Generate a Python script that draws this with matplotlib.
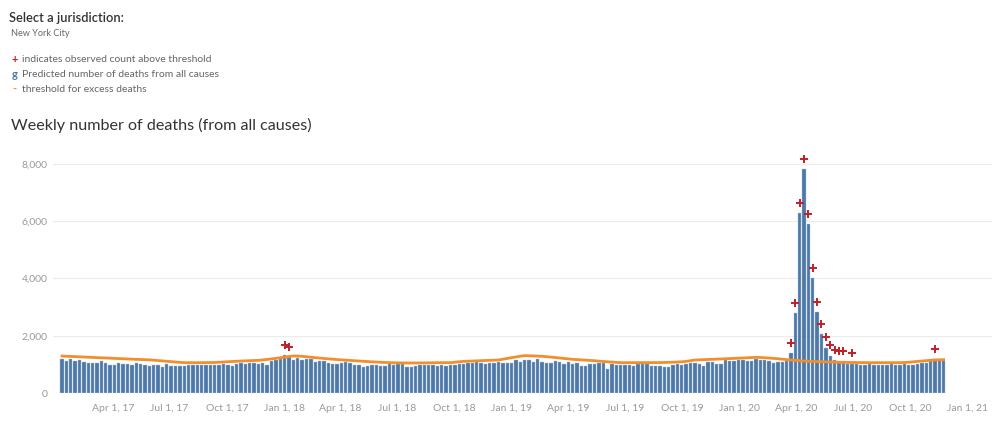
import matplotlib
matplotlib.use("Agg")
import matplotlib.pyplot as plt
import matplotlib.dates as mdates
import pandas as pd

plt.rcParams['font.family'] = ['Lato', 'DejaVu Sans']

# weekly deaths, weeks ending 2017-01-07 .. 2020-11-21
first_week = "2017-01-07"
observed = [
    1175, 1129, 1190, 1129, 1150, 1094, 1036, 1036, 1036, 1105,
    1036, 966, 966, 1036, 1024, 1012, 978, 1045, 1000, 978,
    943, 978, 966, 919, 1000, 930, 930, 943, 943, 966,
    978, 989, 966, 966, 966, 989, 978, 1012, 989, 955,
    1012, 1036, 1012, 1036, 1047, 1012, 1059, 989, 1129, 1163,
    1187, 1311, 1257, 1152, 1233, 1140, 1199, 1175, 1070, 1105,
    1129, 1036, 1012, 1001, 1059, 1070, 1047, 966, 989, 919,
    943, 989, 966, 955, 955, 1012, 966, 1024, 1001, 908,
    896, 943, 978, 978, 966, 966, 955, 966, 943, 989,
    966, 1012, 1024, 1036, 1036, 1082, 1036, 1012, 1059, 1059,
    1094, 1059, 1059, 1059, 1140, 1094, 1140, 1140, 1094, 1187,
    1094, 1036, 1059, 1105, 1070, 1024, 1070, 1024, 1047, 943,
    943, 1012, 1024, 1036, 1036, 850, 1012, 966, 989, 978,
    978, 943, 1012, 1001, 1012, 943, 943, 943, 919, 919,
    978, 1012, 966, 1010, 1059, 1047, 1012, 943, 1094, 1070,
    1024, 1001, 1152, 1129, 1129, 1152, 1152, 1129, 1129, 1175,
    1163, 1152, 1117, 1059, 1094, 1094, 1105, 1384, 2780, 6270,
    7807, 5887, 4002, 2815, 2048, 1582, 1303, 1152, 1117, 1117,
    1010, 1024, 1024, 989, 966, 1024, 966, 966, 989, 966,
    1001, 966, 966, 1001, 989, 966, 1024, 1059, 1047, 1105,
    1175, 1175, 1152,
]
threshold = [
    1290, 1284, 1277, 1270, 1262, 1255, 1249, 1242, 1235, 1228,
    1222, 1215, 1208, 1201, 1194, 1187, 1181, 1175, 1169, 1164,
    1158, 1145, 1130, 1117, 1105, 1093, 1081, 1070, 1059, 1058,
    1057, 1058, 1059, 1061, 1063, 1065, 1073, 1082, 1092, 1101,
    1110, 1116, 1122, 1128, 1134, 1140, 1155, 1172, 1190, 1210,
    1232, 1255, 1275, 1291, 1290, 1280, 1266, 1250, 1235, 1220,
    1205, 1192, 1180, 1168, 1157, 1146, 1136, 1127, 1118, 1108,
    1098, 1089, 1080, 1072, 1066, 1061, 1056, 1052, 1050, 1048,
    1047, 1049, 1051, 1054, 1057, 1059, 1059, 1059, 1059, 1059,
    1075, 1090, 1105, 1111, 1117, 1123, 1129, 1135, 1141, 1147,
    1152, 1180, 1207, 1233, 1260, 1285, 1303, 1300, 1295, 1288,
    1280, 1268, 1254, 1238, 1222, 1206, 1190, 1175, 1166, 1157,
    1148, 1140, 1127, 1113, 1100, 1090, 1080, 1070, 1059, 1059,
    1058, 1058, 1058, 1058, 1058, 1059, 1059, 1062, 1066, 1070,
    1075, 1082, 1090, 1105, 1128, 1152, 1158, 1164, 1170, 1175,
    1181, 1187, 1193, 1199, 1208, 1216, 1225, 1233, 1240, 1245,
    1240, 1230, 1220, 1210, 1195, 1180, 1166, 1152, 1140, 1128,
    1116, 1105, 1100, 1095, 1090, 1086, 1082, 1078, 1070, 1068,
    1066, 1064, 1062, 1061, 1060, 1059, 1059, 1059, 1059, 1059,
    1059, 1059, 1059, 1065, 1075, 1090, 1105, 1117, 1129, 1140,
    1152, 1158, 1164,
]
# weeks marked with a red cross
flagged = [51, 52, 167, 168, 169, 170, 171, 172, 173, 174, 175, 176,
           177, 178, 179, 181, 200]

weeks = pd.date_range(first_week, periods=len(observed), freq="7D")
x = weeks + pd.Timedelta(hours=60)

bar_color = "#4e79a7"
line_color = "#f28e2b"
cross_color = "#c0202a"
text_dark = "#333333"
text_grey = "#666666"
tick_grey = "#999999"

fig = plt.figure(figsize=(10, 4.23), dpi=100)

# header and legend
fig.text(0.009, 1 - 18 / 423, "Select a jurisdiction:", fontsize=9.3,
         color=text_dark, va="center", fontweight="semibold")
fig.text(0.011, 1 - 33 / 423, "New York City", fontsize=6.6,
         color=text_grey, va="center")
legend_rows = [("+", cross_color, "indicates observed count above threshold"),
               ("g", bar_color, "Predicted number of deaths from all causes"),
               ("-", line_color, "threshold for excess deaths")]
for k, (sym, col, label) in enumerate(legend_rows):
    yy = 1 - (60 + 14.5 * k) / 423
    fig.text(0.0145, yy, sym, fontsize=8, color=col, va="center",
             ha="center", fontweight="bold")
    fig.text(0.022, yy, label, fontsize=7.5, color=text_grey, va="center")
fig.text(0.011, 1 - 125 / 423, "Weekly number of deaths (from all causes)",
         fontsize=11.6, color=text_dark, va="center")

ax = fig.add_axes([0.053, 0.0709, 0.939, 0.5757])
ax.bar(x, observed, width=5.4, color=bar_color, edgecolor="#a9c1d9",
       linewidth=0.3, zorder=2)
ax.plot(x, threshold, color=line_color, linewidth=2, zorder=3)

fx = [x[i] for i in flagged]
fy = [observed[i] + 360 for i in flagged]
ax.plot(fx, fy, linestyle="none", marker="+", markersize=6,
        markeredgewidth=1.4, color=cross_color, zorder=4)

ax.set_xlim(pd.Timestamp("2016-12-26"), pd.Timestamp("2021-02-09"))
ax.set_ylim(0, 8500)
ax.set_yticks([0, 2000, 4000, 6000, 8000])
ax.set_yticklabels(["0", "2,000", "4,000", "6,000", "8,000"])
ax.grid(axis="y", color="#ececec", linewidth=0.8, zorder=0)

ticks = pd.date_range("2017-04-01", "2021-01-01", freq="QS")
ax.set_xticks(ticks)
ax.xaxis.set_major_formatter(mdates.DateFormatter("%b %-d, %y"))

ax.tick_params(axis="both", length=0, labelsize=7.5, labelcolor=tick_grey)
ax.tick_params(axis="x", pad=8)
ax.tick_params(axis="y", pad=4)
for s in ax.spines.values():
    s.set_visible(False)

plt.savefig("out.png", dpi=100)
